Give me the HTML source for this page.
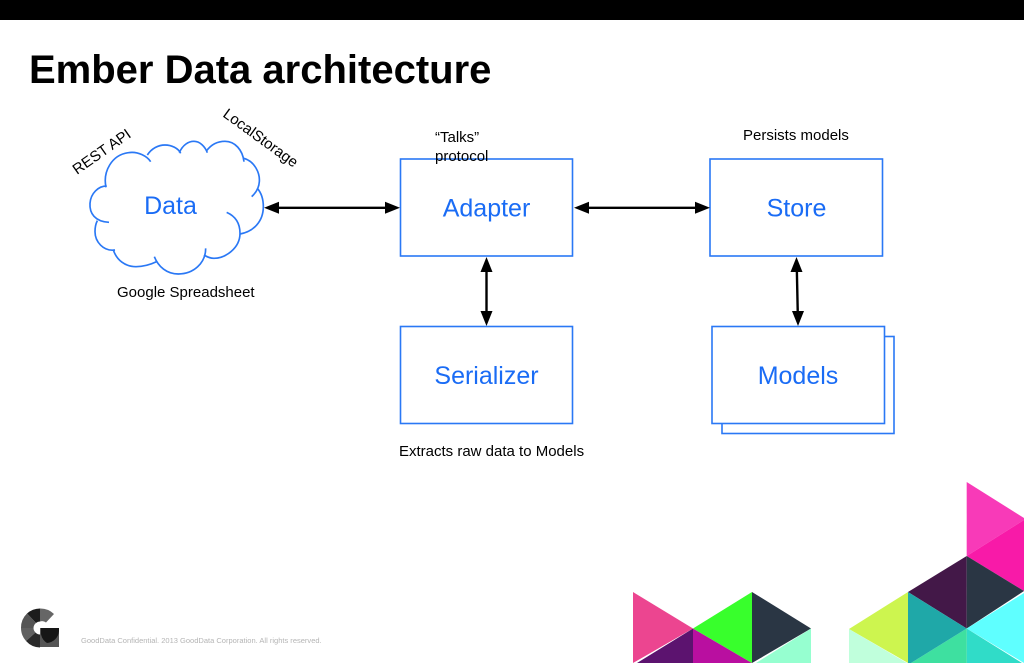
<!DOCTYPE html>
<html><head><meta charset="utf-8">
<style>
html,body{margin:0;padding:0;background:#fff;width:1024px;height:663px;overflow:hidden}
svg{display:block}
text{font-family:"Liberation Sans",sans-serif}
.b{fill:#1a6cf5;font-size:25px;text-anchor:middle}
.k{fill:#000;font-size:15px}
.box{fill:#fff;stroke:#2a78f5;stroke-width:1.6}
</style></head><body>
<svg width="1024" height="663" viewBox="0 0 1024 663" xmlns="http://www.w3.org/2000/svg">
<rect x="0" y="0" width="1024" height="20" fill="#000"/>
<text x="29" y="83" font-size="40" font-weight="bold" fill="#000">Ember Data architecture</text>

<g fill="none" stroke="#2a78f5" stroke-width="5" transform="translate(60 100) scale(.33333)">
<path d="M147 367C105 365 88 340 90 310C92 280 115 258 140 258"/>
<path d="M138 262C128 215 155 165 205 158C235 153 262 170 272 185"/>
<path d="M262 165C275 145 295 135 315 135C335 135 355 145 362 160"/>
<path d="M358 158C368 135 385 124 402 124C420 124 435 140 442 158"/>
<path d="M440 152C455 132 475 124 495 124C525 124 548 150 552 185"/>
<path d="M552 175C585 185 600 220 598 245C597 262 588 278 575 290"/>
<path d="M592 265C605 280 610 300 610 320C610 365 580 395 540 402"/>
<path d="M500 337C530 350 540 375 540 400C540 445 495 475 462 475C452 475 440 470 432 465"/>
<path d="M437 445C437 490 400 522 355 522C320 522 295 500 283 470"/>
<path d="M290 485C265 497 245 500 228 500C195 500 170 480 160 450"/>
<path d="M165 450C130 455 105 425 105 395C105 385 107 372 112 362"/>
</g>
<text class="b" x="170.500" y="214">Data</text>
<text class="k" transform="translate(77 175) rotate(-35)">REST API</text>
<text class="k" transform="translate(222 116) rotate(36)">LocalStorage</text>
<text class="k" x="117" y="297">Google Spreadsheet</text>

<rect class="box" x="400.500" y="159" width="172" height="97"/>
<rect class="box" x="710" y="159" width="172.500" height="97"/>
<rect class="box" x="400.500" y="326.500" width="172" height="97"/>
<rect class="box" x="722" y="336.500" width="172" height="97"/>
<rect class="box" x="712" y="326.500" width="172.500" height="97"/>

<text class="b" x="486.500" y="216.500">Adapter</text>
<text class="b" x="796.500" y="216.500">Store</text>
<text class="b" x="486.500" y="384">Serializer</text>
<text class="b" x="798" y="384">Models</text>

<text class="k" x="435" y="142">“Talks”</text>
<text class="k" x="435" y="161">protocol</text>
<text class="k" x="743" y="140">Persists models</text>
<text class="k" x="399" y="456">Extracts raw data to Models</text>

<g stroke="#000" stroke-width="2.400" fill="#000">
<line x1="275" y1="207.800" x2="390" y2="207.800"/>
<line x1="585" y1="207.800" x2="700" y2="207.800"/>
<line x1="486.500" y1="268" x2="486.500" y2="315"/>
<line x1="796.800" y1="268" x2="797.800" y2="315"/>
</g>
<g fill="#000">
<path d="M264 207.800L279 201.800V213.800Z"/><path d="M400 207.800L385 201.800V213.800Z"/>
<path d="M574 207.800L589 201.800V213.800Z"/><path d="M710 207.800L695 201.800V213.800Z"/>
<path d="M486.500 257L480.500 272H492.500Z"/><path d="M486.500 326L480.500 311H492.500Z"/>
<path d="M796.500 257L790.500 272H802.500Z"/><path d="M798 326L792 311H804Z"/>
</g>

<!-- bottom left logo -->
<g>
<path d="M40 608.500A19.500 19.500 0 0 0 27 613.500L36 623A6.500 6.500 0 0 1 40 621.500Z" fill="#1c1c1c"/>
<path d="M40 608.500A19.500 19.500 0 0 1 54 614L46 622.500A6.500 6.500 0 0 0 40 621.500Z" fill="#666"/>
<path d="M27 613.500A19.500 19.500 0 0 0 21 628H33.500A6.500 6.500 0 0 1 36 623Z" fill="#555"/>
<path d="M21 628A19.500 19.500 0 0 0 26 641L35.500 632.500A6.500 6.500 0 0 1 33.500 628Z" fill="#606060"/>
<path d="M26 641A19.500 19.500 0 0 0 40 647.500V634.500A6.500 6.500 0 0 1 35.500 632.500Z" fill="#2a2a2a"/>
<path d="M40 628H59V647H40Z" fill="#555"/>
<path d="M41 628H59V631A13 13 0 0 1 47 643A13 13 0 0 1 41 634Z" fill="#161616"/>
</g>
<text x="81" y="643" font-size="7.530" fill="#b5b5b5">GoodData Confidential. 2013 GoodData Corporation. All rights reserved.</text>

<!-- triangles group 1 -->
<polygon points="633,592 693,628.500 633,663" fill="#ec4590"/>
<polygon points="693,628.500 693,663 637,663" fill="#5c136f"/>
<polygon points="693,628.500 752,663 693,663" fill="#b90fa0"/>
<polygon points="693,628.500 752,592 752,663" fill="#38ff2c"/>
<polygon points="752,592 811,628.500 752,663" fill="#2a3644"/>
<polygon points="811,628.500 811,663 756,663" fill="#96ffd0"/>

<!-- triangles group 2 -->
<polygon points="966.700,482 1024,518 1024,520 966.700,556" fill="#f83ab8"/>
<polygon points="966.700,556 1024,520 1024,591" fill="#f81aa8"/>
<polygon points="966.700,556 908,592 966.700,628.500" fill="#431848"/>
<polygon points="966.700,556 1024,591 966.700,628.500" fill="#2a3644"/>
<polygon points="966.700,628.500 1024,593 1024,663" fill="#5fffff"/>
<polygon points="966.700,628.500 1022,663 966.700,663" fill="#30dcc8"/>
<polygon points="966.700,628.500 966.700,663 911,663" fill="#3ee0a0"/>
<polygon points="908,592 966.700,628.500 911,663 908,663" fill="#1fa8a8"/>
<polygon points="908,592 908,663 849,629" fill="#cdf54f"/>
<polygon points="849,629 907,663 849,663" fill="#c0ffdc"/>
</svg>
</body></html>
